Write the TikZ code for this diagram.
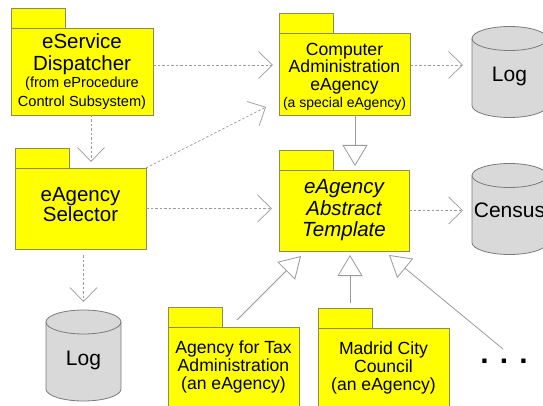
\documentclass[tikz,border=0pt]{standalone}
\usepackage{fontspec}
\setmainfont{Liberation Sans}
\usetikzlibrary{arrows.meta,calc}
\definecolor{pkgfill}{HTML}{FFFF00}
\definecolor{pkgline}{HTML}{8C8C55}
\definecolor{cylfill}{HTML}{D9D9D9}
\definecolor{cylline}{HTML}{7A7A7A}
\definecolor{conn}{HTML}{9A9A9A}
\newcommand\fsbig{\fontsize{20.5}{21.5}\selectfont}
\newcommand\fsmid{\fontsize{17.6}{17.8}\selectfont}
\newcommand\fssmall{\fontsize{14.6}{17}\selectfont}
\newcommand\fssmaller{\fontsize{14.0}{17}\selectfont}
\newcommand\fscyl{\fontsize{21}{21}\selectfont}
\newcommand\drawcyl[1]{%
 \filldraw[cylbody] ([yshift=-12pt]#1.north west) -- ([yshift=12pt]#1.south west)
   arc[start angle=180,end angle=360,x radius=37.5pt,y radius=12pt]
   -- ([yshift=-12pt]#1.north east)
   arc[start angle=0,end angle=180,x radius=37.5pt,y radius=12pt] -- cycle;
 \draw[cylbody,fill=none] ([yshift=-12pt]#1.north west)
   arc[start angle=180,end angle=360,x radius=37.5pt,y radius=12pt];}
\newcommand\drawtab[1]{\filldraw[pkgtab] (#1.north west) rectangle ++(54.5,-20);}
\tikzset{
  pkg/.style={draw=pkgline, fill=pkgfill, line width=0.9pt, outer sep=0pt, inner sep=0pt, align=center, font=\fsbig},
  pkgtab/.style={draw=pkgline, fill=pkgfill, line width=0.9pt},
  cylbody/.style={draw=cylline, fill=cylfill, line width=0.8pt},
  cylnode/.style={minimum width=75pt, minimum height=91pt, inner sep=0pt, outer sep=0pt},
  cyltext/.style={anchor=base, font=\fscyl, inner sep=0pt},
  dep/.style={draw=conn, line width=0.7pt, dash pattern=on 2.5pt off 2pt, -{Straight Barb[length=14pt,width=27pt]}},
  gen/.style={draw=conn, line width=0.8pt, -{Triangle[fill=white,length=21pt,width=25pt]}}
}
\begin{document}
\begin{tikzpicture}[x=1pt,y=-1pt]
\useasboundingbox (0,0) rectangle (543,406);
\clip (0,0) rectangle (543,406);
\fill[white] (0,0) rectangle (543,406);

% cylinders
\node[cylnode] (log1) at (509.5,72) {};
\node[cylnode] (census) at (509.5,209) {};
\node[cylnode] (log2) at (83.5,355.5) {};
\drawcyl{log1}
\drawcyl{census}
\drawcyl{log2}
\node[cyltext] (log1t) at ($(log1.center)+(0,10)$) {Log};
\node[cyltext] (censust) at ($(census.center)+(0,8)$) {Census};
\node[cyltext] (log2t) at ($(log2.center)+(0,9.5)$) {Log};

% packages
\node[pkg, minimum width=142pt, minimum height=87pt] (disp) at (82,71.5)
  {eService\\Dispatcher\\[-4pt]\fssmall(from eProcedure\\[-3pt]\fssmall Control Subsystem)};
\drawtab{disp}
\node[pkg, minimum width=131pt, minimum height=81pt, text depth=8pt] (sel) at (80.5,208.5)
  {eAgency\\[-1.5pt]Selector};
\drawtab{sel}
\node[pkg, minimum width=131pt, minimum height=82pt, font=\fsmid] (cae) at (344.5,74)
  {\rule{0pt}{17.5pt}Computer\\Administration\\eAgency\\[-1pt]\fssmaller(a special eAgency)};
\drawtab{cae}
\node[pkg, minimum width=130pt, minimum height=81pt, font=\fsbig\itshape] (abs) at (344,210.5)
  {eAgency\\Abstract\\Template};
\drawtab{abs}
\node[pkg, minimum width=131pt, minimum height=80pt, font=\fsmid] (tax) at (233.5,367)
  {Agency for Tax\\Administration\\(an eAgency)};
\drawtab{tax}
\node[pkg, minimum width=131pt, minimum height=80pt, font=\fsmid] (mad) at (383.5,368)
  {Madrid City\\Council\\(an eAgency)};
\drawtab{mad}
\node[anchor=base, inner sep=0pt, font=\fontsize{30}{30}\selectfont\bfseries] (dots) at (504,363) {. . .};

% dependencies
\draw[dep, shorten >=6pt] ([yshift=6.5pt]disp.east) -- ([yshift=9pt]cae.west);
\draw[dep] ($(disp.south)+(9,0)$) -- ($(sel.north)+(10.5,-6)$);
\draw[dep] (sel.north east) -- ($(cae.south west)+(-13,-8)$);
\draw[dep, shorten >=7pt] (sel.east) -- (sel.east -| abs.west);
\draw[dep] ($(cae.east)+(0,-9)$) -- ($(cae.east -| log1.west)+(-9,-9)$);
\draw[dep, shorten >=9pt] (abs.east) -- (abs.east -| census.west);
\draw[dep, shorten >=8pt] ($(sel.south -| log2.north)+(0,6)$) -- (log2.north);

% generalizations
\draw[gen] ($(cae.south)+(10.5,0)$) -- ($(abs.north)+(11,-4)$);
\draw[gen] ($(tax.north)+(3.5,-7)$) -- ($(abs.south)+(-43,5)$);
\draw[gen] ($(mad.north)+(-33.5,-25)$) -- ($(abs.south)+(6,4)$);
\draw[gen] ($(dots.base)+(-1,-14)$) -- ($(abs.south)+(45,4)$);
\end{tikzpicture}
\end{document}
